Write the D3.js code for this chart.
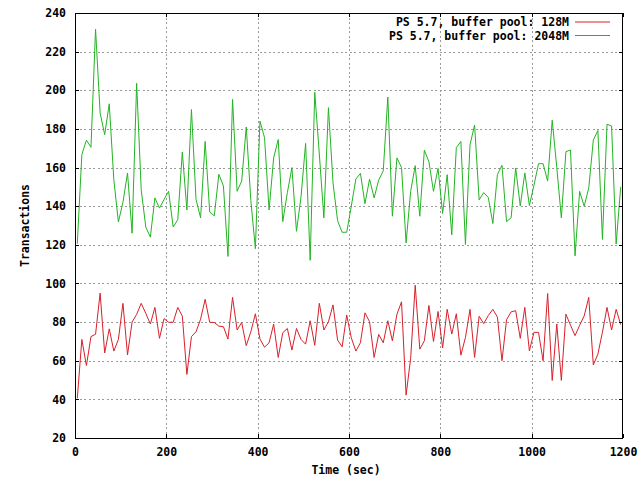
<!DOCTYPE html>
<html>
<head>
<meta charset="utf-8">
<script src="https://cdn.jsdelivr.net/npm/d3@7"></script>
<style>
  body { margin: 0; background: #fff; }
  text { font-family: "DejaVu Sans Mono", monospace; font-weight: bold; font-size: 11.5px; fill: #000; }
</style>
</head>
<body>
<svg id="chart" width="640" height="480"></svg>
<script>
// ---------- data ----------
const seriesNames = ["PS 5.7, buffer pool: 128M", "PS 5.7, buffer pool: 2048M"];
const seriesColors = ["#d8202a", "#22b422"];
const xTickValues = [0, 200, 400, 600, 800, 1000, 1200];
const yTickValues = [20, 40, 60, 80, 100, 120, 140, 160, 180, 200, 220, 240];
const xLabel = "Time (sec)";
const yLabel = "Transactions";
const firstSample = 5;      // seconds
const sampleStep = 10;      // seconds between samples

const tps128M = [
  40.5, 71, 57.5, 72.5, 73.7, 95, 64, 76.5, 65, 71,
  89.7, 63, 80, 84, 89.7, 84.5, 79, 87.6, 71.6, 81.8,
  79.9, 79.9, 87.6, 83.1, 52.9, 72.5, 75, 81.5, 91.8, 79.9,
  79.8, 77.9, 77.6, 71.2, 92.8, 75.9, 79.8, 67.8, 75, 84.3,
  71.3, 67, 69.3, 79, 61.7, 74.5, 76.7, 65.5, 76.7, 71,
  68.6, 80.7, 68, 89.7, 75.9, 80.2, 88.9, 70.7, 67.2, 83.7,
  71.9, 65, 69.3, 84.8, 80.2, 61.7, 73.6, 69.3, 80.7, 70.3,
  84.1, 90.5, 42.2, 61.2, 99.1, 66, 70.3, 88.6, 70, 85.5,
  66.6, 86.6, 73.8, 84.3, 62.9, 72, 86.6, 61.7, 83, 79.2,
  83.4, 86.6, 82.6, 60, 81.2, 85.3, 85.9, 71.6, 87.6, 65.1,
  74.7, 74.7, 60, 94.8, 49.8, 79, 49.8, 84.1, 78.4, 73,
  78.3, 83.2, 92.8, 57.8, 63.4, 74.8, 87.6, 75.9, 86.6, 78.7
];

const tps2048M = [
  120.5, 166.7, 174.2, 170.5, 231.6, 188.3, 177, 193, 153.7, 131.8,
  142, 157.2, 126, 203.6, 148.5, 129.2, 124, 144.3, 139, 143.5,
  147.7, 129.2, 133, 168, 138, 190, 143.5, 134, 173.5, 137,
  135, 156.5, 150.5, 114, 195.3, 147.7, 153, 181, 143, 118,
  184, 175.5, 138, 165, 174.5, 132, 147, 160, 127, 145,
  172.5, 112, 199, 167, 134, 191, 152, 132.5, 126.5, 126.5,
  140, 154, 157, 141.3, 154, 144.3, 153.5, 158.3, 196.5, 134.8,
  165, 160, 121, 147.7, 161, 134.8, 169, 163, 147.7, 159.6,
  136.2, 156.3, 125.2, 170.3, 173.5, 120.2, 171.8, 182, 143.3, 147,
  144.5, 131, 156.4, 161.2, 132, 134, 159.8, 140.1, 157.2, 140.3,
  150.8, 162, 162, 153, 184.5, 160, 134, 168.2, 169.1, 114.3,
  147.7, 140, 149.4, 174.2, 179.2, 122.8, 182.4, 181.5, 120.4, 150
];

const seriesValues = [tps128M, tps2048M];

// ---------- layout ----------
const W = 640, H = 480;
const margin = { left: 75, right: 17, top: 13, bottom: 42 };
const svg = d3.select("#chart");

const x = d3.scaleLinear().domain([0, 1200]).range([margin.left, W - margin.right]);
const y = d3.scaleLinear().domain([20, 240]).range([H - margin.bottom, margin.top]);

const plotL = x.range()[0], plotR = x.range()[1], plotT = y.range()[1], plotB = y.range()[0];

// grid
const grid = svg.append("g").attr("stroke", "#9a9a9a").attr("stroke-width", 1)
  .attr("stroke-dasharray", "2,2.5").attr("shape-rendering", "crispEdges");
grid.selectAll("line.gx").data(xTickValues.filter(v => v > 0 && v < 1200)).join("line")
  .attr("x1", d => Math.round(x(d)) + 0.5).attr("x2", d => Math.round(x(d)) + 0.5)
  .attr("y1", plotT).attr("y2", plotB);
grid.selectAll("line.gy").data(yTickValues.filter(v => v > 20 && v < 240)).join("line")
  .attr("y1", d => Math.round(y(d)) + 0.5).attr("y2", d => Math.round(y(d)) + 0.5)
  .attr("x1", plotL).attr("x2", plotR);

// clip
svg.append("clipPath").attr("id", "clip").append("rect")
  .attr("x", plotL).attr("y", plotT).attr("width", plotR - plotL).attr("height", plotB - plotT);

// lines
const line = d3.line()
  .x((d, i) => x(firstSample + i * sampleStep))
  .y(d => y(d));

svg.append("g").attr("clip-path", "url(#clip)")
  .selectAll("path").data(seriesValues).join("path")
  .attr("d", d => line(d))
  .attr("fill", "none")
  .attr("stroke", (d, i) => seriesColors[i])
  .attr("stroke-width", 1);

// axes (ticks pointing inward, mirrored)
function styleAxis(g) {
  g.select(".domain").remove();
  g.selectAll("line").attr("stroke", "#000").attr("shape-rendering", "crispEdges");
  g.selectAll("text").attr("fill", "#000")
    .style("font-family", '"DejaVu Sans Mono", monospace')
    .style("font-weight", "bold").style("font-size", "11.5px");
}

svg.append("g").attr("transform", `translate(0,${plotB})`)
  .call(d3.axisBottom(x).tickValues(xTickValues).tickFormat(d3.format("d")).tickSize(-4).tickPadding(10))
  .call(styleAxis);
svg.append("g").attr("transform", `translate(${plotL},0)`)
  .call(d3.axisLeft(y).tickValues(yTickValues).tickFormat(d3.format("d")).tickSize(-4).tickPadding(9))
  .call(styleAxis);
svg.append("g").attr("transform", `translate(0,${plotT})`)
  .call(d3.axisTop(x).tickValues(xTickValues).tickFormat("").tickSize(-4))
  .call(styleAxis);
svg.append("g").attr("transform", `translate(${plotR},0)`)
  .call(d3.axisRight(y).tickValues(yTickValues).tickFormat("").tickSize(-4))
  .call(styleAxis);

// border
svg.append("rect")
  .attr("x", plotL + 0.5).attr("y", plotT + 0.5)
  .attr("width", plotR - plotL - 1).attr("height", plotB - plotT)
  .attr("fill", "none").attr("stroke", "#000").attr("stroke-width", 1)
  .attr("shape-rendering", "crispEdges");

// axis titles
svg.append("text").attr("x", (plotL + plotR) / 2 - 3).attr("y", 474)
  .attr("text-anchor", "middle").text(xLabel);
svg.append("text")
  .attr("transform", `translate(29,${(plotT + plotB) / 2}) rotate(-90)`)
  .attr("text-anchor", "middle").text(yLabel);

// legend
const legend = svg.append("g");
seriesNames.forEach((name, i) => {
  const by = 26 + i * 13.5;
  legend.append("text").attr("x", 569).attr("y", by).attr("text-anchor", "end").text(name);
  legend.append("line").attr("x1", 575).attr("x2", 610)
    .attr("y1", by - 4).attr("y2", by - 4)
    .attr("stroke", seriesColors[i]).attr("stroke-width", 1);
});
</script>
</body>
</html>
